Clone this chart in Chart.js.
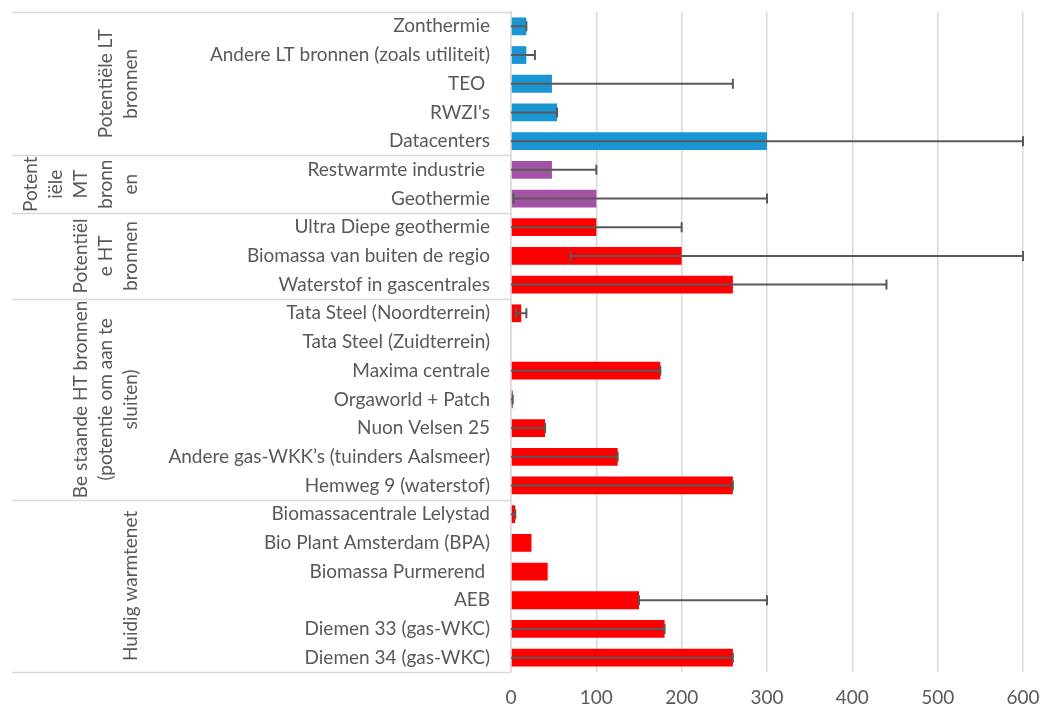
<!DOCTYPE html>
<html>
<head>
<meta charset="utf-8">
<script src="https://cdn.jsdelivr.net/npm/chart.js@4.4.1/dist/chart.umd.min.js"></script>
<style>
  body { margin: 0; background: #fff; }
  #wrap { width: 1047px; height: 710px; position: relative; }
</style>
</head>
<body>
<div id="wrap"><canvas id="warmteChart"></canvas></div>
<script>
// bronnen (van boven naar onder)
const categories = [
  'Zonthermie', 'Andere LT bronnen (zoals utiliteit)', 'TEO ', "RWZI's", 'Datacenters',
  'Restwarmte industrie ', 'Geothermie',
  'Ultra Diepe geothermie', 'Biomassa van buiten de regio', 'Waterstof in gascentrales',
  'Tata Steel (Noordterrein)', 'Tata Steel (Zuidterrein)', 'Maxima centrale', 'Orgaworld + Patch',
  'Nuon Velsen 25', 'Andere gas-WKK\u2019s (tuinders Aalsmeer)', 'Hemweg 9 (waterstof)',
  'Biomassacentrale Lelystad', 'Bio Plant Amsterdam (BPA)', 'Biomassa Purmerend ', 'AEB',
  'Diemen 33 (gas-WKC)', 'Diemen 34 (gas-WKC)'
];
const values  = [18, 18, 48, 54, 300, 48, 100, 100, 200, 260, 12, 0, 175, 2, 40, 125, 260, 5, 24, 43, 150, 180, 260];
// foutbalken: onder- en bovengrens
const errLow  = [0, 0, 0, 0, 0, 0, 3, 0, 70, 0, 6, null, 0, 0, 0, 0, 0, 0, null, null, 150, 0, 0];
const errHigh = [18, 28, 260, 54, 600, 100, 300, 200, 600, 440, 18, null, 175, 2, 40, 125, 260, 5, null, null, 300, 180, 260];

// groepen op de categorie-as
const groupLabels = [
  ['Potentiële LT', 'bronnen'],
  ['Potent', 'iële', 'MT', 'bronn', 'en'],
  ['Potentiël', 'e HT', 'bronnen'],
  ['Be staande HT bronnen', '(potentie om aan te', 'sluiten)'],
  ['Huidig warmtenet']
];
const groupSizes = [5, 2, 3, 7, 6];
const groupColors = ['#1a96d4', '#a452a6', '#ff0000', '#ff0000', '#ff0000'];
const xTicks = [0, 100, 200, 300, 400, 500, 600];

const barColors = [];
groupSizes.forEach((n, g) => { for (let i = 0; i < n; i++) barColors.push(groupColors[g]); });

const grey = '#595959';
const lineGrey = '#d9d9d9';
Chart.defaults.font.family = 'Lato, "Open Sans", sans-serif';

// foutbalken tekenen
const errorBars = {
  id: 'errorBars',
  afterDatasetsDraw(chart) {
    const ctx = chart.ctx;
    const x = chart.scales.x;
    const meta = chart.getDatasetMeta(0);
    ctx.save();
    ctx.strokeStyle = grey;
    ctx.lineWidth = 2;
    meta.data.forEach((bar, i) => {
      if (errLow[i] === null || errHigh[i] === null) return;
      const x1 = x.getPixelForValue(errLow[i]);
      const x2 = x.getPixelForValue(errHigh[i]);
      const y = bar.y;
      ctx.beginPath();
      ctx.moveTo(x1, y); ctx.lineTo(x2, y);
      if (errLow[i] !== 0) { ctx.moveTo(x1, y - 5); ctx.lineTo(x1, y + 5); }
      ctx.moveTo(x2, y - 5); ctx.lineTo(x2, y + 5);
      ctx.stroke();
    });
    ctx.restore();
  }
};

// groeplabels en scheidingslijnen links
const groupAxis = {
  id: 'groupAxis',
  afterDraw(chart) {
    const ctx = chart.ctx;
    const yS = chart.scales.y;
    const area = chart.chartArea;
    const step = yS.getPixelForValue(1) - yS.getPixelForValue(0);
    const leftX = 12;
    ctx.save();
    ctx.strokeStyle = lineGrey;
    ctx.lineWidth = 1.5;
    let start = 0;
    const edges = [area.top];
    groupSizes.forEach((n, g) => {
      const top = yS.getPixelForValue(start) - step / 2;
      const bottom = yS.getPixelForValue(start + n - 1) + step / 2;
      edges.push(bottom);
      const cy = (top + bottom) / 2;
      const lines = groupLabels[g];
      ctx.fillStyle = grey;
      ctx.font = '19px Lato, "Open Sans", sans-serif';
      ctx.textAlign = 'center';
      ctx.textBaseline = 'middle';
      lines.forEach((txt, k) => {
        const lx = 131 - (lines.length - 1 - k) * 25;
        ctx.save();
        ctx.translate(lx, cy);
        ctx.rotate(-Math.PI / 2);
        ctx.fillText(txt, 0, 0);
        ctx.restore();
      });
      start += n;
    });
    edges.forEach(e => {
      ctx.beginPath();
      ctx.moveTo(leftX, Math.round(e) + 0.5);
      ctx.lineTo(area.left, Math.round(e) + 0.5);
      ctx.stroke();
    });
    ctx.restore();
  }
};

new Chart(document.getElementById('warmteChart'), {
  type: 'bar',
  data: {
    labels: categories,
    datasets: [{
      data: values,
      backgroundColor: barColors,
      barPercentage: 0.62,
      categoryPercentage: 1
    }]
  },
  options: {
    indexAxis: 'y',
    responsive: true,
    maintainAspectRatio: false,
    animation: false,
    layout: { padding: { left: 0, top: 12, right: 24, bottom: 0 } },
    plugins: { legend: { display: false }, tooltip: { enabled: false } },
    scales: {
      x: {
        min: 0, max: 600,
        afterBuildTicks: s => { s.ticks = xTicks.map(v => ({ value: v })); },
        afterFit: s => { s.height = 38; s.paddingLeft = 0; s.paddingRight = 0; },
        border: { display: false },
        grid: { color: lineGrey, lineWidth: 1.5, drawTicks: false },
        ticks: { color: grey, font: { size: 19 }, padding: 14 }
      },
      y: {
        afterFit: s => { s.width = 511; s.paddingTop = 0; s.paddingBottom = 0; },
        border: { display: true, color: lineGrey, width: 1.5 },
        grid: { display: false, drawTicks: false },
        ticks: { color: grey, font: { size: 19 }, padding: 21, autoSkip: false }
      }
    }
  },
  plugins: [errorBars, groupAxis]
});
</script>
</body>
</html>
